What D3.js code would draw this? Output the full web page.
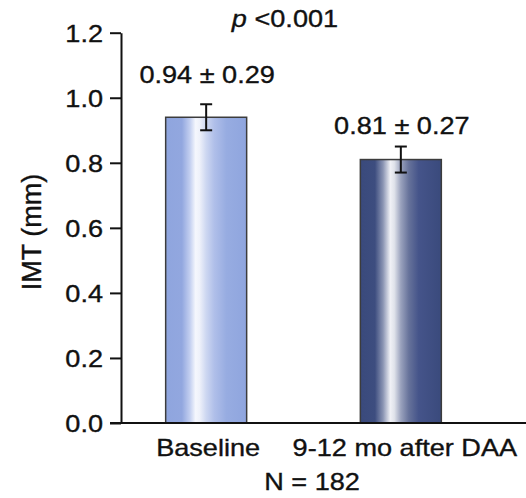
<!DOCTYPE html>
<html>
<head>
<meta charset="utf-8">
<script src="https://cdn.jsdelivr.net/npm/d3@7"></script>
<style>
  html, body { margin: 0; padding: 0; background: #fff; }
  svg { display: block; }
  text { font-family: "Liberation Sans", Arial, Helvetica, sans-serif; fill: #111; stroke: #111; stroke-width: 0.35px; }
</style>
</head>
<body>
<svg id="chart" width="526" height="498"></svg>
<script>
// IMT before and after DAA therapy (mean ± SD, error bars = 95% CI)
const categories = ["Baseline", "9-12 mo after DAA"];
const meanIMT = [0.94, 0.81];
const sdIMT = [0.29, 0.27];
const ciHalfWidth = [0.04, 0.04];
const yTickValues = [0.0, 0.2, 0.4, 0.6, 0.8, 1.0, 1.2];
const pValueText = "<0.001";
const sampleText = "N = 182";
const yTitle = "IMT (mm)";

const W = 526, H = 498;
const SX = 1.13;         // horizontal text stretch
const FS = 24;           // base font size
const labelGap = [21, 13]; // space between error-bar top and its value label

const svg = d3.select("#chart");

const y = d3.scaleLinear().domain([0, 1.2]).range([423, 32.7]);
const x = d3.scaleBand().domain(categories).range([117, 490])
  .paddingInner(0.584).paddingOuter(0.25);
const axisX = 121;

// gradients: a bright vertical highlight a bit left of centre
const defs = svg.append("defs");
const gradStops = [
  [[0, "#8fa5de"], [0.2, "#92a7df"], [0.3, "#c3cff0"], [0.37, "#f5f7fd"], [0.42, "#eef1fa"],
   [0.5, "#cdd7f1"], [0.6, "#b0bfe9"], [0.75, "#97ace1"], [1, "#8fa5de"]],
  [[0, "#3a4a7c"], [0.18, "#3d4d7f"], [0.28, "#8a94b3"], [0.37, "#f0f1f6"], [0.42, "#dfe2ea"],
   [0.5, "#9aa2bd"], [0.6, "#66729a"], [0.72, "#45548a"], [1, "#3a4a7c"]]
];
gradStops.forEach((stops, i) => {
  const g = defs.append("linearGradient").attr("id", "barGrad" + i)
    .attr("x1", "0%").attr("x2", "100%").attr("y1", "0%").attr("y2", "0%");
  stops.forEach(([o, c]) => g.append("stop").attr("offset", o).attr("stop-color", c));
});

const rows = categories.map((c, i) => ({ cat: c, mean: meanIMT[i], sd: sdIMT[i], ci: ciHalfWidth[i], i }));

// helper for horizontally stretched text
function stretchedText(sel, tx, ty, str, anchor, size) {
  return sel.append("text")
    .attr("transform", `translate(${tx},${ty}) scale(${SX},1)`)
    .attr("text-anchor", anchor || "middle")
    .attr("font-size", size || FS)
    .text(str);
}

// bars
svg.append("g").selectAll("rect").data(rows).join("rect")
  .attr("x", d => x(d.cat))
  .attr("y", d => y(d.mean))
  .attr("width", x.bandwidth())
  .attr("height", d => y(0) - y(d.mean))
  .attr("fill", d => `url(#barGrad${d.i})`)
  .attr("stroke", "#3c3c3c")
  .attr("stroke-width", 1.5);

// error bars
const eb = svg.append("g").attr("stroke", "#111").attr("stroke-width", 2).attr("fill", "none");
rows.forEach(d => {
  const cx = x(d.cat) + x.bandwidth() / 2;
  const top = y(d.mean + d.ci), bot = y(d.mean - d.ci);
  eb.append("line").attr("x1", cx).attr("x2", cx).attr("y1", top).attr("y2", bot);
  eb.append("line").attr("x1", cx - 6).attr("x2", cx + 6).attr("y1", top).attr("y2", top);
  eb.append("line").attr("x1", cx - 6).attr("x2", cx + 6).attr("y1", bot).attr("y2", bot);
});

// value labels
rows.forEach(d => {
  const cx = x(d.cat) + x.bandwidth() / 2;
  stretchedText(svg, cx + 1, y(d.mean + d.ci) - labelGap[d.i],
    `${d.mean.toFixed(2)} ± ${d.sd.toFixed(2)}`);
});

// y axis
const yAxis = d3.axisLeft(y).tickValues(yTickValues).tickFormat(d3.format(".1f"))
  .tickSize(11).tickSizeOuter(0);
const gy = svg.append("g").attr("transform", `translate(${axisX},0)`).call(yAxis);
gy.select(".domain").attr("stroke", "#111").attr("stroke-width", 2);
gy.selectAll(".tick line").attr("stroke", "#111").attr("stroke-width", 2);
gy.selectAll(".tick text")
  .attr("x", null).attr("dy", "0.36em")
  .attr("transform", `translate(-18,0) scale(${SX},1)`)
  .attr("font-size", FS)
  .attr("font-family", null)
  .attr("fill", "#111");

// x baseline
svg.append("line")
  .attr("x1", axisX - 11).attr("x2", W)
  .attr("y1", y(0)).attr("y2", y(0))
  .attr("stroke", "#111").attr("stroke-width", 2);

// category labels
rows.forEach(d => {
  stretchedText(svg, x(d.cat) + x.bandwidth() / 2 + 2 + d.i * 2, 456, d.cat);
});

// sample size
stretchedText(svg, 312, 490, sampleText);

// p value
const pt = svg.append("text")
  .attr("transform", `translate(285,27) scale(${SX},1)`)
  .attr("text-anchor", "middle")
  .attr("font-size", FS);
pt.append("tspan").attr("font-style", "italic").text("p");
pt.append("tspan").text(" " + pValueText);

// y title
svg.append("text")
  .attr("transform", `translate(41,232) rotate(-90)`)
  .attr("text-anchor", "middle")
  .attr("font-size", 27)
  .text(yTitle);
</script>
</body>
</html>
